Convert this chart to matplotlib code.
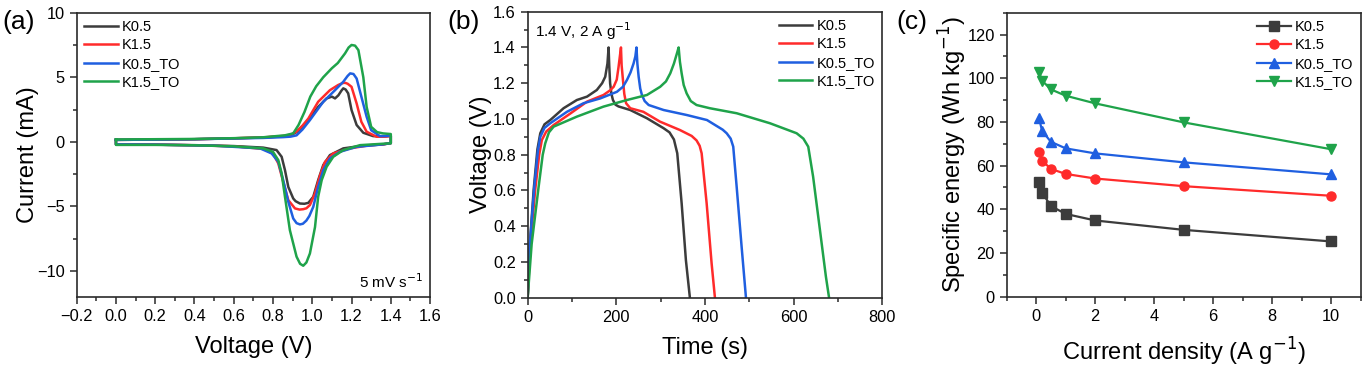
import matplotlib
matplotlib.use("Agg")
import matplotlib.pyplot as plt
from matplotlib.ticker import MultipleLocator

plt.rcParams['font.family'] = ['Liberation Sans', 'DejaVu Sans']
plt.rcParams['axes.unicode_minus'] = True

labels = ["K0.5", "K1.5", "K0.5_TO", "K1.5_TO"]
colors = ["#3c3c3c", "#ff2b2b", "#1f5fe0", "#1fa34a"]

# ---- (a) CV loops at 5 mV/s: (voltage, current)
cv_k05_v = [0.0, 0.2, 0.4, 0.6, 0.75, 0.85, 0.89, 0.92, 0.95, 0.98, 1.03, 1.073, 1.10, 1.116, 1.133, 1.148, 1.158, 1.17, 1.183, 1.20, 1.226, 1.26, 1.31, 1.36, 1.40,
            1.40, 1.36, 1.243, 1.158, 1.09, 1.056, 1.03, 1.005, 0.98, 0.96, 0.937, 0.915, 0.903, 0.878, 0.861, 0.844, 0.818, 0.75, 0.6, 0.4, 0.2, 0.0, 0.0]
cv_k05_i = [0.15, 0.17, 0.2, 0.27, 0.33, 0.42, 0.5, 0.75, 1.2, 1.7, 2.7, 3.36, 3.5, 3.36, 3.6, 3.95, 4.14, 4.05, 3.75, 2.46, 1.3, 0.7, 0.44, 0.42, 0.45,
            -0.1, -0.2, -0.33, -0.51, -1.03, -1.8, -2.97, -4.26, -4.73, -4.8, -4.78, -4.6, -4.39, -3.5, -2.2, -1.16, -0.64, -0.45, -0.33, -0.26, -0.22, -0.2, 0.15]

cv_k15_v = [0.0, 0.2, 0.4, 0.6, 0.75, 0.85, 0.89, 0.92, 0.95, 0.98, 1.03, 1.09, 1.132, 1.155, 1.167, 1.18, 1.20, 1.226, 1.25, 1.277, 1.328, 1.37, 1.40,
            1.40, 1.36, 1.294, 1.192, 1.107, 1.065, 1.04, 1.014, 0.988, 0.97, 0.954, 0.935, 0.912, 0.878, 0.852, 0.827, 0.80, 0.75, 0.6, 0.4, 0.2, 0.0, 0.0]
cv_k15_i = [0.15, 0.17, 0.2, 0.27, 0.34, 0.45, 0.55, 0.8, 1.25, 1.8, 3.1, 4.0, 4.4, 4.55, 4.57, 4.5, 4.26, 2.97, 1.55, 0.78, 0.39, 0.4, 0.45,
            -0.1, -0.2, -0.26, -0.51, -0.9, -1.55, -2.58, -4.0, -4.9, -5.15, -5.22, -5.25, -5.16, -4.52, -3.1, -1.68, -0.9, -0.55, -0.35, -0.27, -0.22, -0.2, 0.15]

cv_k05to_v = [0.0, 0.2, 0.4, 0.6, 0.75, 0.85, 0.89, 0.92, 0.95, 0.988, 1.056, 1.116, 1.158, 1.18, 1.193, 1.21, 1.226, 1.25, 1.277, 1.30, 1.345, 1.38, 1.40,
              1.40, 1.36, 1.226, 1.14, 1.09, 1.056, 1.03, 1.005, 0.985, 0.97, 0.952, 0.937, 0.92, 0.903, 0.878, 0.852, 0.827, 0.793, 0.734, 0.5, 0.2, 0.0, 0.0]
cv_k05to_i = [0.15, 0.17, 0.2, 0.26, 0.3, 0.36, 0.4, 0.5, 0.95, 1.68, 3.1, 4.0, 4.65, 5.1, 5.3, 5.25, 4.9, 3.5, 1.94, 0.9, 0.44, 0.45, 0.5,
              -0.1, -0.2, -0.39, -0.78, -1.29, -2.2, -3.5, -5.04, -5.75, -6.1, -6.35, -6.4, -6.3, -5.94, -4.65, -2.97, -1.55, -0.9, -0.51, -0.3, -0.22, -0.2, 0.15]

cv_k15to_v = [0.0, 0.2, 0.4, 0.6, 0.75, 0.86, 0.903, 0.93, 0.96, 0.99, 1.02, 1.056, 1.10, 1.13, 1.167, 1.185, 1.20, 1.218, 1.235, 1.26, 1.277, 1.30, 1.33, 1.36, 1.40,
              1.40, 1.36, 1.243, 1.158, 1.107, 1.073, 1.048, 1.03, 1.014, 0.988, 0.97, 0.954, 0.938, 0.92, 0.886, 0.861, 0.844, 0.827, 0.80, 0.75, 0.6, 0.4, 0.2, 0.0, 0.0]
cv_k15to_i = [0.18, 0.2, 0.22, 0.28, 0.35, 0.5, 0.65, 1.3, 2.3, 3.5, 4.3, 5.0, 5.7, 6.1, 6.85, 7.3, 7.5, 7.45, 7.1, 5.0, 2.7, 1.16, 0.75, 0.65, 0.6,
              -0.12, -0.15, -0.26, -0.64, -1.16, -1.94, -2.97, -4.26, -6.6, -8.65, -9.35, -9.6, -9.45, -8.9, -6.85, -4.26, -2.45, -1.42, -0.78, -0.51, -0.35, -0.27, -0.24, -0.24, 0.18]

# ---- (b) GCD curves at 2 A/g: (time, voltage)
gcd_k05_t = [0, 5, 13.5, 22, 28.5, 38, 51, 81, 111, 134, 156, 168, 175, 180, 182.6, 184, 186, 189, 192.4, 198, 205, 231.5, 269, 306.8, 320, 330, 337.5, 347.4, 357, 366]
gcd_k05_v = [0, 0.3, 0.603, 0.83, 0.92, 0.97, 0.994, 1.06, 1.106, 1.125, 1.162, 1.2, 1.236, 1.31, 1.40, 1.3, 1.2, 1.14, 1.106, 1.08, 1.07, 1.05, 1.004, 0.948, 0.925, 0.885, 0.808, 0.528, 0.21, 0]

gcd_k15_t = [0, 6, 17, 26, 32, 42, 58.6, 96, 134, 171, 186, 194, 201, 205, 208, 210.5, 212, 215, 218, 222, 231.5, 261, 298.5, 343.6, 370, 381, 388, 392.5, 403.8, 415, 422.5]
gcd_k15_v = [0, 0.3, 0.603, 0.8, 0.882, 0.93, 0.966, 1.03, 1.097, 1.134, 1.16, 1.18, 1.22, 1.29, 1.35, 1.40, 1.3, 1.218, 1.14, 1.088, 1.06, 1.04, 0.985, 0.938, 0.905, 0.88, 0.85, 0.808, 0.528, 0.192, 0]

gcd_k05to_t = [0, 5, 15, 23, 28.5, 38, 51, 88.6, 126, 163.8, 201.4, 215, 224, 232, 239, 243, 245.5, 247.5, 250.4, 254, 257.8, 264, 273, 306.8, 359, 404.5, 440, 449, 458, 463.8, 471.5, 482.7, 492.5]
gcd_k05to_v = [0, 0.3, 0.62, 0.82, 0.90, 0.95, 0.976, 1.04, 1.088, 1.115, 1.152, 1.18, 1.218, 1.26, 1.311, 1.35, 1.40, 1.31, 1.236, 1.17, 1.134, 1.1, 1.078, 1.05, 1.022, 0.994, 0.94, 0.92, 0.89, 0.845, 0.621, 0.285, 0]

gcd_k15to_t = [0, 9, 24.7, 34, 39.7, 48, 58.6, 111, 171, 224, 269, 299, 312, 321.7, 330, 336.8, 340.6, 343.5, 347.4, 352, 358.7, 368, 381, 411, 471.5, 546.6, 606.8, 622, 633, 644, 659.4, 672.9, 680]
gcd_k15to_v = [0, 0.3, 0.62, 0.8, 0.864, 0.925, 0.957, 1.013, 1.069, 1.106, 1.134, 1.18, 1.21, 1.255, 1.31, 1.367, 1.40, 1.32, 1.255, 1.19, 1.143, 1.1, 1.078, 1.06, 1.032, 0.976, 0.92, 0.89, 0.845, 0.677, 0.379, 0.117, 0]

# ---- (c) specific energy vs current density
current_density = [0.1, 0.2, 0.5, 1, 2, 5, 10]
energy_k05 = [52.4, 47.7, 41.5, 37.9, 34.9, 30.6, 25.3]
energy_k15 = [66.3, 62.3, 58.5, 56.2, 54.1, 50.6, 46.2]
energy_k05to = [81.6, 75.9, 70.9, 67.9, 65.6, 61.5, 56.0]
energy_k15to = [102.7, 98.9, 94.9, 92.0, 88.5, 79.8, 67.5]

cv = [(cv_k05_v, cv_k05_i), (cv_k15_v, cv_k15_i), (cv_k05to_v, cv_k05to_i), (cv_k15to_v, cv_k15to_i)]
gcd = [(gcd_k05_t, gcd_k05_v), (gcd_k15_t, gcd_k15_v), (gcd_k05to_t, gcd_k05to_v), (gcd_k15to_t, gcd_k15to_v)]
energy = [energy_k05, energy_k15, energy_k05to, energy_k15to]
markers = ["s", "o", "^", "v"]

fig = plt.figure(figsize=(13.67, 3.66), dpi=100)
ax1 = fig.add_axes([0.0561, 0.1893, 0.2585, 0.776])
ax2 = fig.add_axes([0.3860, 0.1866, 0.2594, 0.7814])
ax3 = fig.add_axes([0.7364, 0.1893, 0.2590, 0.776])

tick_fs = 11.8
lab_fs = 17
leg_fs = 10.5
leg_kw = dict(frameon=False, fontsize=leg_fs, handlelength=2.3, handletextpad=0.3,
              labelspacing=0.3, borderpad=0.35, borderaxespad=0.15)

for ax in (ax1, ax2, ax3):
    for s in ax.spines.values():
        s.set_linewidth(1.2)
        s.set_color("#2a2a2a")
    ax.tick_params(which="both", direction="out", labelsize=tick_fs, color="#2a2a2a", width=1.1)
    ax.tick_params(which="major", length=5)
    ax.tick_params(which="minor", length=3)

# (a)
for (v, i), c, l in zip(cv, colors, labels):
    ax1.plot(v, i, color=c, lw=1.8, label=l)
ax1.set_xlim(-0.2, 1.6)
ax1.set_ylim(-12, 10)
ax1.xaxis.set_minor_locator(MultipleLocator(0.1))
ax1.yaxis.set_major_locator(MultipleLocator(5))
ax1.yaxis.set_minor_locator(MultipleLocator(2.5))
ax1.set_xticks([-0.2, 0.0, 0.2, 0.4, 0.6, 0.8, 1.0, 1.2, 1.4, 1.6])
ax1.set_xticklabels(["\u22120.2", "0.0", "0.2", "0.4", "0.6", "0.8", "1.0", "1.2", "1.4", "1.6"])
ax1.set_xlabel("Voltage (V)", fontsize=lab_fs, labelpad=9)
ax1.set_ylabel("Current (mA)", fontsize=lab_fs, labelpad=-1)
ax1.legend(loc="upper left", **leg_kw)
ax1.text(0.98, 0.02, "5 mV s$^{-1}$", transform=ax1.transAxes, ha="right", va="bottom", fontsize=11)

# (b)
for (t, v), c, l in zip(gcd, colors, labels):
    ax2.plot(t, v, color=c, lw=1.8, label=l)
ax2.set_xlim(0, 800)
ax2.set_ylim(0, 1.6)
ax2.xaxis.set_major_locator(MultipleLocator(200))
ax2.xaxis.set_minor_locator(MultipleLocator(100))
ax2.yaxis.set_major_locator(MultipleLocator(0.2))
ax2.yaxis.set_minor_locator(MultipleLocator(0.1))
ax2.yaxis.set_major_formatter(plt.FormatStrFormatter("%.1f"))
ax2.set_xlabel("Time (s)", fontsize=lab_fs, labelpad=9)
ax2.set_ylabel("Voltage (V)", fontsize=lab_fs, labelpad=1)
ax2.legend(loc="upper right", **leg_kw)
ax2.text(0.02, 0.97, "1.4 V, 2 A g$^{-1}$", transform=ax2.transAxes, ha="left", va="top", fontsize=11)

# (c)
for e, c, m, l in zip(energy, colors, markers, labels):
    ax3.plot(current_density, e, color=c, lw=1.6, marker=m, markersize=6.5, label=l)
ax3.set_xlim(-1, 11)
ax3.set_ylim(0, 130)
ax3.xaxis.set_major_locator(MultipleLocator(2))
ax3.xaxis.set_minor_locator(MultipleLocator(1))
ax3.yaxis.set_major_locator(MultipleLocator(20))
ax3.yaxis.set_minor_locator(MultipleLocator(10))
ax3.set_xlabel("Current density (A g$^{-1}$)", fontsize=lab_fs, labelpad=9)
ax3.set_ylabel("Specific energy (Wh kg$^{-1}$)", fontsize=lab_fs, labelpad=-1)
ax3.legend(loc="upper right", **leg_kw)

fig.text(0.002, 0.94, "(a)", fontsize=19, ha="left", va="center")
fig.text(0.327, 0.94, "(b)", fontsize=19, ha="left", va="center")
fig.text(0.656, 0.94, "(c)", fontsize=19, ha="left", va="center")

fig.savefig("out.png", dpi=100)
